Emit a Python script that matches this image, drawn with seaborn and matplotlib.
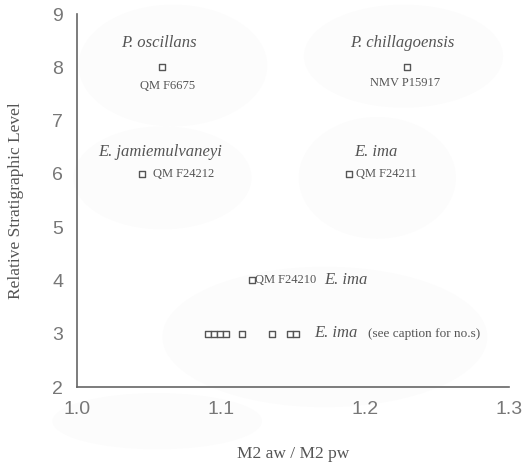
import matplotlib
matplotlib.use("Agg")
import matplotlib.pyplot as plt
from matplotlib.patches import Ellipse
import seaborn as sns
import pandas as pd

# ---- data ----
ratio = [1.059, 1.229, 1.045, 1.189, 1.1215,
         1.091, 1.095, 1.099, 1.1035, 1.1146, 1.1354, 1.148, 1.152]
level = [8, 8, 6, 6, 4,
         3, 3, 3, 3, 3, 3, 3, 3]
species_labels = ["P. oscillans", "P. chillagoensis", "E. jamiemulvaneyi",
                  "E. ima", "E. ima", "E. ima"]
specimen_labels = ["QM F6675", "NMV P15917", "QM F24212", "QM F24211", "QM F24210"]
note_label = "(see caption for no.s)"
x_ticks = [1.0, 1.1, 1.2, 1.3]
y_ticks = [2, 3, 4, 5, 6, 7, 8, 9]

df = pd.DataFrame({"ratio": ratio, "level": level})

sns.set_style("white")
fig = plt.figure(figsize=(5.24, 4.68), dpi=100)
ax = fig.add_axes([0.147, 0.173, 0.824, 0.797])
ax.patch.set_alpha(0)

# faint background blobs (scan artefacts), drawn beneath everything
blob = "#fcfcfc"
for (cx, cy, w, h) in [(0.33, 0.86, 0.36, 0.26), (0.77, 0.88, 0.38, 0.22),
                       (0.72, 0.62, 0.30, 0.26), (0.31, 0.62, 0.34, 0.22),
                       (0.62, 0.28, 0.62, 0.30), (0.30, 0.10, 0.40, 0.12)]:
    ax.add_patch(Ellipse((cx, cy), w, h, transform=fig.transFigure,
                         facecolor=blob, edgecolor="none", zorder=0.1,
                         clip_on=False))

sns.scatterplot(data=df, x="ratio", y="level", marker="s", s=22,
                facecolor="white", edgecolor="#555555", linewidth=1.0,
                ax=ax, zorder=3, legend=False)

ax.set_xlim(1.0, 1.3)
ax.set_ylim(2, 9)
ax.set_xticks(x_ticks)
ax.set_xticklabels([f"{v:.1f}" for v in x_ticks])
ax.set_yticks(y_ticks)
ax.set_xticks([1.05, 1.15, 1.25], minor=True)
ax.set_yticks([2.5, 3.5, 4.5, 5.5, 6.5, 7.5, 8.5], minor=True)

for s in ["top", "right"]:
    ax.spines[s].set_visible(False)
for s in ["left", "bottom"]:
    ax.spines[s].set_color("#666666")
    ax.spines[s].set_linewidth(1.2)
    ax.spines[s].set_zorder(2.5)

tick_col = "#777777"
ax.tick_params(axis="both", which="major", length=6, width=1.1, color="#666666",
               labelsize=14, labelcolor=tick_col)
ax.tick_params(axis="x", which="major", direction="inout", length=8, pad=6)
ax.tick_params(axis="y", which="major", direction="out", length=6, pad=4)
ax.tick_params(axis="x", which="minor", direction="in", length=4, width=1, color="#888888")
ax.tick_params(axis="y", which="minor", direction="inout", length=4, width=1, color="#888888")
for lab in ax.get_xticklabels() + ax.get_yticklabels():
    lab.set_family("Liberation Sans")

serif = "Liberation Serif"
tc = "#555555"
ax.set_xlabel("M2 aw / M2 pw", family=serif, fontsize=12.5, color=tc, labelpad=20)
ax.set_ylabel("Relative Stratigraphic Level", family=serif, fontsize=12.5, color=tc, labelpad=20)

sp = dict(family=serif, style="italic", fontsize=12, color=tc, va="center")
spec = dict(family=serif, fontsize=9, color=tc, va="center")

ax.text(1.057, 8.45, species_labels[0], ha="center", **sp)
ax.text(1.063, 7.65, specimen_labels[0], ha="center", **spec)
ax.text(1.226, 8.45, species_labels[1], ha="center", **sp)
ax.text(1.228, 7.70, specimen_labels[1], ha="center", **spec)
ax.text(1.058, 6.41, species_labels[2], ha="center", **sp)
ax.text(1.0525, 6.0, specimen_labels[2], ha="left", **spec)
ax.text(1.1925, 6.41, species_labels[3], ha="left", **sp)
ax.text(1.1935, 6.0, specimen_labels[3], ha="left", **spec)
ax.text(1.124, 4.0, specimen_labels[4], ha="left", **spec)
ax.text(1.172, 4.0, species_labels[4], ha="left", **sp)
ax.text(1.165, 3.02, species_labels[5], ha="left", **sp)
ax.text(1.202, 3.0, note_label, ha="left", family=serif, fontsize=9.5, color=tc, va="center")

fig.savefig("out.png", dpi=100)
